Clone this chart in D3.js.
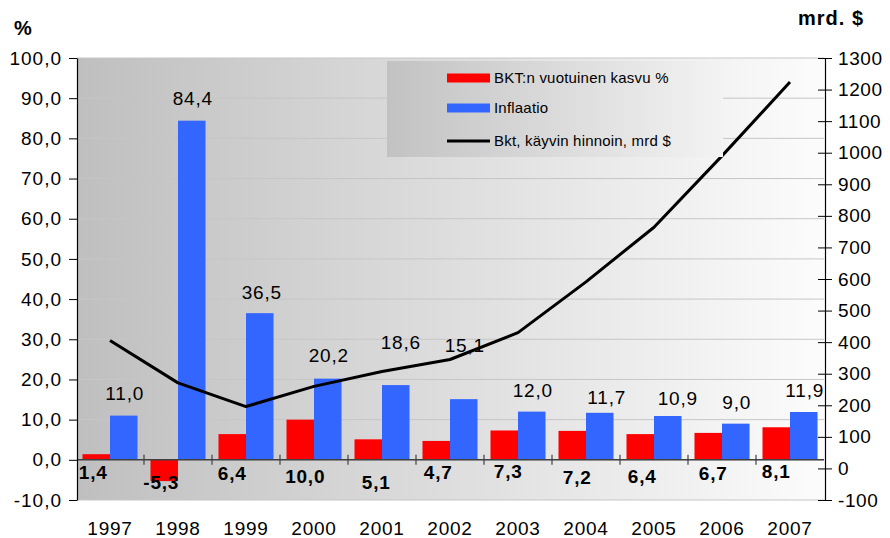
<!DOCTYPE html>
<html>
<head>
<meta charset="utf-8">
<script src="https://cdn.jsdelivr.net/npm/d3@7"></script>
<style>
  body { margin: 0; background: #fff; }
  svg { font-family: "Liberation Sans", Arial, sans-serif; }
</style>
</head>
<body>
<svg id="chart" width="890" height="538"></svg>
<script>
// data
const years = ['1997', '1998', '1999', '2000', '2001', '2002', '2003', '2004', '2005', '2006', '2007'];
const gdpGrowth = [1.4, -5.3, 6.4, 10.0, 5.1, 4.7, 7.3, 7.2, 6.4, 6.7, 8.1];
const inflation = [11.0, 84.4, 36.5, 20.2, 18.6, 15.1, 12.0, 11.7, 10.9, 9.0, 11.9];
const gdpUsd = [405, 271, 196, 260, 307, 345, 430, 591, 764, 990, 1224];
const leftTicks = d3.range(-10, 101, 10);
const rightTicks = d3.range(-100, 1301, 100);
const legendLabels = ['BKT:n vuotuinen kasvu %', 'Inflaatio', 'Bkt, käyvin hinnoin, mrd $'];

// label nudges (layout only), as placed by hand in the original
const redLabelDx = [-3, -3, 0, 5, 8, 2, 4, 5, 2, 5, 0];
const redLabelDy = [13, 23, 14, 17, 23, 13, 12, 18, 17, 14, 12];
const blueLabelDx = [1, 1, 2, 1, 5, 1, 1, 7, 10, 1, 1];
const blueLabelDy = [22, 22, 21, 23, 43, 54, 21, 15, 18, 21, 22];

const plotLeft = 77, plotRight = 824, plotTop = 58, plotBottom = 500;
const svg = d3.select('#chart');
const fmt = v => d3.format('.1f')(v).replace('.', ',').replace('\u2212', '-');
const fmtR = v => d3.format('d')(v).replace('\u2212', '-');

const x = d3.scaleBand().domain(years).range([plotLeft - 1, plotRight]).padding(0);
const xs = d3.scaleBand().domain(['gdp', 'infl']).range([0, x.bandwidth()]).paddingInner(0).paddingOuter(0.236);
const yL = d3.scaleLinear().domain([-10, 100]).range([plotBottom, plotTop]);
const yR = d3.scaleLinear().domain([-100, 1300]).range([plotBottom, plotTop]);

const defs = svg.append('defs');
const bg = defs.append('linearGradient').attr('id', 'bg');
bg.append('stop').attr('offset', '0%').attr('stop-color', '#bfbfbf');
bg.append('stop').attr('offset', '100%').attr('stop-color', '#fcfcfc');
const lg = defs.append('linearGradient').attr('id', 'lg');
lg.append('stop').attr('offset', '0%').attr('stop-color', '#c2c2c2');
lg.append('stop').attr('offset', '100%').attr('stop-color', '#f3f3f3');

// plot area
svg.append('rect')
  .attr('x', plotLeft).attr('y', plotTop)
  .attr('width', plotRight - plotLeft).attr('height', plotBottom - plotTop)
  .attr('fill', 'url(#bg)');

svg.append('g')
  .selectAll('line')
  .data(leftTicks)
  .enter().append('line')
  .attr('x1', plotLeft).attr('x2', plotRight)
  .attr('y1', d => yL(d)).attr('y2', d => yL(d))
  .attr('stroke', '#c6c6c6')
  .attr('stroke-width', 1);

// bars
const bars = svg.append('g');
bars.selectAll('rect.gdp')
  .data(gdpGrowth)
  .enter().append('rect')
  .attr('class', 'gdp')
  .attr('x', (d, i) => x(years[i]) + xs('gdp'))
  .attr('width', xs.bandwidth())
  .attr('y', d => Math.min(yL(d), yL(0)))
  .attr('height', d => Math.abs(yL(d) - yL(0)))
  .attr('fill', '#ff0000');

bars.selectAll('rect.infl')
  .data(inflation)
  .enter().append('rect')
  .attr('class', 'infl')
  .attr('x', (d, i) => x(years[i]) + xs('infl'))
  .attr('width', xs.bandwidth())
  .attr('y', d => yL(d))
  .attr('height', d => yL(0) - yL(d))
  .attr('fill', '#3366ff');

// x axis line at zero
svg.append('line')
  .attr('x1', plotLeft).attr('x2', plotRight)
  .attr('y1', yL(0)).attr('y2', yL(0))
  .attr('stroke', '#404040').attr('stroke-width', 1.5);
svg.append('g')
  .selectAll('line')
  .data(years.slice(1))
  .enter().append('line')
  .attr('x1', d => x(d)).attr('x2', d => x(d))
  .attr('y1', yL(0) - 5).attr('y2', yL(0) + 5)
  .attr('stroke', '#404040').attr('stroke-width', 1.2);

// GDP line
const line = d3.line()
  .x((d, i) => x(years[i]) + x.bandwidth() / 2)
  .y(d => yR(d));
svg.append('path')
  .datum(gdpUsd)
  .attr('d', line)
  .attr('fill', 'none')
  .attr('stroke', '#000')
  .attr('stroke-width', 3)
  .attr('stroke-linejoin', 'round');

// value labels
svg.append('g')
  .selectAll('text')
  .data(gdpGrowth)
  .enter().append('text')
  .attr('x', (d, i) => x(years[i]) + xs('gdp') + xs.bandwidth() / 2 + redLabelDx[i])
  .attr('y', (d, i) => yL(0) + redLabelDy[i])
  .attr('dy', '0.35em')
  .attr('text-anchor', 'middle')
  .attr('font-size', 19)
  .attr('letter-spacing', 0.8)
  .attr('font-weight', 'bold')
  .attr('fill', '#000')
  .text(d => fmt(d));

svg.append('g')
  .selectAll('text')
  .data(inflation)
  .enter().append('text')
  .attr('x', (d, i) => x(years[i]) + xs('infl') + xs.bandwidth() / 2 + blueLabelDx[i])
  .attr('y', (d, i) => yL(d) - blueLabelDy[i])
  .attr('dy', '0.35em')
  .attr('text-anchor', 'middle')
  .attr('font-size', 19)
  .attr('letter-spacing', 0.8)
  .attr('fill', '#000')
  .text(d => fmt(d));

// left axis
const axL = svg.append('g')
  .attr('transform', 'translate(' + plotLeft + ',0)')
  .call(d3.axisLeft(yL).tickValues(leftTicks).tickFormat(fmt).tickSize(8).tickSizeOuter(0).tickPadding(7));
axL.select('.domain').attr('stroke', '#000').attr('stroke-width', 1.2);
axL.selectAll('.tick line').attr('stroke', '#000');
axL.selectAll('.tick text').attr('font-size', 19).attr('letter-spacing', 1).attr('font-family', null).attr('fill', '#000');

// right axis
const axR = svg.append('g')
  .attr('transform', 'translate(' + (plotRight + 1) + ',0)')
  .call(d3.axisRight(yR).tickValues(rightTicks).tickFormat(fmtR).tickSize(7).tickSizeOuter(0).tickPadding(6));
axR.select('.domain').attr('stroke', '#000').attr('stroke-width', 1.2);
axR.selectAll('.tick line').attr('x1', -7).attr('stroke', '#000');
axR.selectAll('.tick text').attr('font-size', 19).attr('letter-spacing', 0.6).attr('font-family', null).attr('fill', '#000');

// year labels
svg.append('g')
  .selectAll('text')
  .data(years)
  .enter().append('text')
  .attr('x', d => x(d) + x.bandwidth() / 2)
  .attr('y', 528)
  .attr('dy', '0.35em')
  .attr('text-anchor', 'middle')
  .attr('font-size', 19)
  .attr('letter-spacing', 0.8)
  .text(d => d);

// unit titles
svg.append('text').attr('x', 14).attr('y', 28).attr('dy', '0.35em')
  .attr('font-size', 20).attr('font-weight', 'bold').text('%');
svg.append('text').attr('x', 798).attr('y', 18).attr('dy', '0.35em')
  .attr('font-size', 20).attr('letter-spacing', 1).attr('font-weight', 'bold').text('mrd. $');

// legend
const legend = svg.append('g');
legend.append('rect')
  .attr('x', 387).attr('y', 61).attr('width', 336).attr('height', 96)
  .attr('fill', 'url(#lg)');
const legendY = [78, 108, 141];
const legendColors = ['#ff0000', '#3366ff', '#000'];
legendLabels.forEach((lab, i) => {
  if (i < 2) {
    legend.append('rect')
      .attr('x', 447).attr('y', legendY[i] - 4.5).attr('width', 43).attr('height', 9)
      .attr('fill', legendColors[i]);
  } else {
    legend.append('line')
      .attr('x1', 447).attr('x2', 490).attr('y1', legendY[i]).attr('y2', legendY[i])
      .attr('stroke', legendColors[i]).attr('stroke-width', 3);
  }
  legend.append('text')
    .attr('x', 494).attr('y', legendY[i]).attr('dy', '0.35em')
    .attr('font-size', 15)
    .attr('letter-spacing', 0.2)
    .text(lab);
});
</script>
</body>
</html>
